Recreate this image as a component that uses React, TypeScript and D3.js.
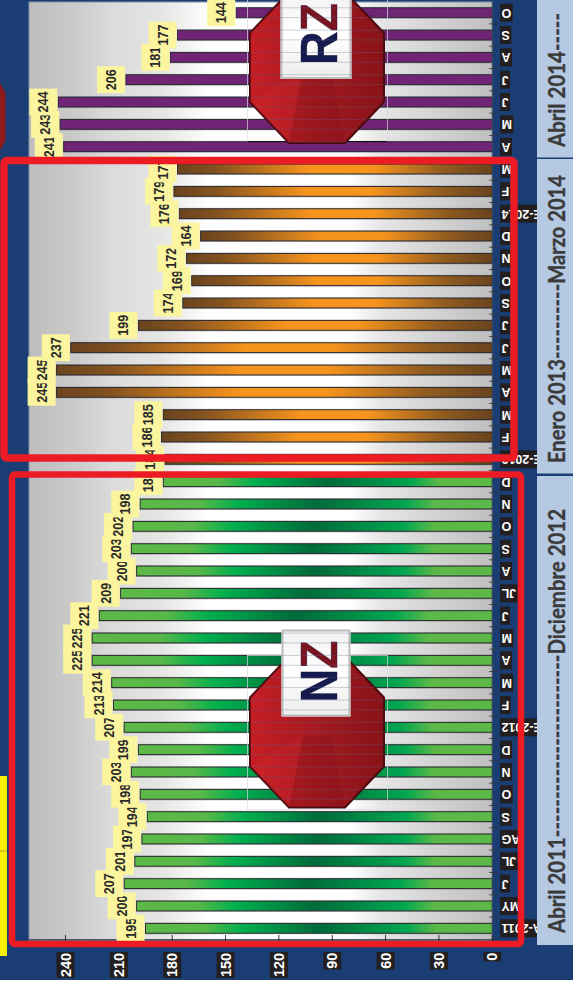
import * as d3 from "d3";
import React from "react";

// Monthly counts, oldest first, one array pair per reporting period.
const greenMonths = ["A-2011", "MY", "J", "JL", "AG", "S", "O", "N", "D", "E-2012", "F", "M", "A", "M", "J", "JL", "A", "S", "O", "N", "D"];
const greenValues = [195, 200, 207, 201, 197, 194, 198, 203, 199, 207, 213, 214, 225, 225, 221, 209, 200, 203, 202, 198, 185];
const orangeMonths = ["E-2013", "F", "M", "A", "M", "J", "J", "S", "O", "N", "D", "E-2014", "F", "M"];
const orangeValues = [184, 186, 185, 245, 245, 237, 199, 174, 169, 172, 164, 176, 179, 177];
const purpleMonths = ["A", "M", "J", "J", "A", "S", "O"];
const purpleValues = [241, 243, 244, 206, 181, 177, 144];
const valueTicks = [0, 30, 60, 90, 120, 150, 180, 210, 240];
const periodTitles = [
  "Abril 2011------------------------Diciembre 2012",
  "Enero 2013----------Marzo 2014",
  "Abril 2014-----",
];

const W = 573;
const H = 989;
const NAVY = "#1A3E73";
const SANS = "'Liberation Sans', Arial, sans-serif";

type Row = { key: number; month: string; value: number; fill: string };
const rows: Row[] = [
  ...greenMonths.map((m, i) => ({ month: m, value: greenValues[i], fill: "url(#barGreen)" })),
  ...orangeMonths.map((m, i) => ({ month: m, value: orangeValues[i], fill: "url(#barOrange)" })),
  ...purpleMonths.map((m, i) => ({ month: m, value: purpleValues[i], fill: "#6F2475" })),
].map((r, i) => ({ ...r, key: i }));

const xScale = d3.scaleLinear().domain([0, 240]).range([492.3, 65.5]);
const yScale = d3.scalePoint<number>().domain(rows.map((r) => r.key)).range([928.3, 12.7]);
const step = yScale.step();
const BAR_H = 9.8;

const measureCtx = document.createElement("canvas").getContext("2d")!;
function textWidth(text: string, font: string) {
  measureCtx.font = font;
  return measureCtx.measureText(text).width;
}

function octagon(x0: number, x1: number, y0: number, y1: number) {
  const cx = 39;
  const cy = 41;
  const pts: [number, number][] = [
    [x0 + cx, y0], [x1 - cx, y0], [x1, y0 + cy], [x1, y1 - cy],
    [x1 - cx, y1], [x0 + cx, y1], [x0, y1 - cy], [x0, y0 + cy],
  ];
  return pts;
}

type BadgeProps = { id: string; first: string; second: string; y0: number; boxY: number; boxX: number; boxW: number; baseLine?: boolean };

function Badge({ id, first, second, y0, boxY, boxX, boxW, baseLine }: BadgeProps) {
  const x0 = 250;
  const x1 = 384;
  const y1 = y0 + 151;
  const pts = octagon(x0, x1, y0, y1);
  const poly = pts.map((p) => p.join(",")).join(" ");
  const midX = (x0 + x1) / 2;
  const midY = (y0 + y1) / 2 + 4;
  const boxH = 87;
  const boxPath = `M${boxX},${boxY}h${boxW}v${boxH}h${-boxW}z`;
  return (
    <g>
      <rect x={247.5} y={y0 - 1} width={140} height={y1 - y0 + (baseLine ? -0.5 : 3)} fill="none" stroke="#d4dae4" strokeWidth={0.7} />
      {baseLine && <line x1={247.5} x2={387.5} y1={y1 - 1.5} y2={y1 - 1.5} stroke="#111" strokeWidth={1.2} />}
      <polygon points={poly} fill="url(#badgeRed)" stroke="#4A0B10" strokeWidth={2} strokeLinejoin="round" />
      <polygon points={`${pts[4].join(",")} ${pts[5].join(",")} ${midX - 14},${midY} ${midX + 14},${midY}`} fill="#7d1015" opacity={0.28} />
      <polygon points={`${pts[6].join(",")} ${pts[5].join(",")} ${midX - 14},${midY}`} fill="#c8242a" opacity={0.25} />
      <polygon points={`${pts[7].join(",")} ${pts[0].join(",")} ${midX},${y0 + 70} ${pts[6].join(",")}`} fill="#a9191f" opacity={0.25} />
      <rect x={boxX} y={boxY} width={boxW} height={boxH} fill="url(#plateFace)" />
      <rect x={boxX + 1} y={boxY + 1} width={boxW - 2} height={boxH - 2} fill="none" stroke="#bdbdbd" strokeWidth={2} />
      <rect x={boxX + 3} y={boxY + 3} width={boxW - 6} height={boxH - 6} fill="none" stroke="#f4f4f4" strokeWidth={1} />
      <text
        transform={`translate(337,${boxY + 73}) rotate(-90)`}
        fontFamily={SANS}
        fontWeight={700}
        fontSize={52}
        textLength={62}
        lengthAdjust="spacingAndGlyphs"
        stroke="#1b1b3a"
        strokeWidth={0.4}
      >
        <tspan fill="#151B4E">{first}</tspan>
        <tspan fill="#7A1420">{second}</tspan>
      </text>
      <clipPath id={`${id}-clip`}>
        <polygon points={poly} />
        <path d={boxPath} />
      </clipPath>
      {/* bar outlines showing faintly through the translucent badge */}
      <g clipPath={`url(#${id}-clip)`} stroke="#5b6690" strokeOpacity={0.38} strokeWidth={0.8}>
        {rows.flatMap((r) => {
          const c = yScale(r.key)!;
          return [c - BAR_H / 2, c + BAR_H / 2].map((y, i) => (
            <line key={`${r.key}-${i}`} x1={x0} x2={x1} y1={y} y2={y} />
          ));
        })}
      </g>
    </g>
  );
}

export default function App() {
  const catFont = `bold 12.5px ${SANS}`;
  const panels = [
    { y0: 476, y1: 945, top: 509, bottom: 933, text: periodTitles[0] },
    { y0: 159, y1: 473.5, top: 175, bottom: 463, text: periodTitles[1] },
    { y0: 0, y1: 157.5, top: 13, bottom: 147, text: periodTitles[2] },
  ];
  return (
    <svg width={W} height={H} style={{ position: "absolute", left: 0, top: 0, display: "block" }}>
      <defs>
        <linearGradient id="plotBg" x1="0" x2="1" y1="0" y2="0">
          <stop offset="0" stopColor="#BDBDBD" />
          <stop offset="0.1" stopColor="#CBCBCB" />
          <stop offset="0.175" stopColor="#DADADA" />
          <stop offset="0.29" stopColor="#E6E6E4" />
          <stop offset="0.39" stopColor="#FFFFFF" />
          <stop offset="0.69" stopColor="#FFFFFF" />
          <stop offset="0.76" stopColor="#E6E6E6" />
          <stop offset="1" stopColor="#BFBFBF" />
        </linearGradient>
        <linearGradient id="barGreen" x1="0" x2="1" y1="0" y2="0">
          <stop offset="0" stopColor="#5DB947" />
          <stop offset="0.17" stopColor="#58B848" />
          <stop offset="0.28" stopColor="#00AF4F" />
          <stop offset="0.5" stopColor="#006B3A" />
          <stop offset="0.75" stopColor="#00A651" />
          <stop offset="0.84" stopColor="#5DB947" />
          <stop offset="1" stopColor="#5DB947" />
        </linearGradient>
        <linearGradient id="barOrange" x1="0" x2="1" y1="0" y2="0">
          <stop offset="0" stopColor="#6A431E" />
          <stop offset="0.12" stopColor="#83521F" />
          <stop offset="0.42" stopColor="#F7941D" />
          <stop offset="0.62" stopColor="#F7941D" />
          <stop offset="0.85" stopColor="#8F5B20" />
          <stop offset="1" stopColor="#6A431E" />
        </linearGradient>
        <linearGradient id="badgeRed" x1="0" x2="1" y1="0" y2="0">
          <stop offset="0" stopColor="#CF2027" />
          <stop offset="0.55" stopColor="#A01A20" />
          <stop offset="1" stopColor="#871318" />
        </linearGradient>
        <linearGradient id="plateFace" x1="0" x2="0" y1="0" y2="1">
          <stop offset="0" stopColor="#F2F2F2" />
          <stop offset="0.5" stopColor="#FFFFFF" />
          <stop offset="1" stopColor="#ECECEC" />
        </linearGradient>
      </defs>

      <rect x={0} y={0} width={W} height={980} fill={NAVY} />
      <rect x={0} y={980} width={W} height={H - 980} fill="#FFFFFF" />

      {/* elements of the neighbouring panel cut off at the left edge */}
      <rect x={0} y={776} width={7} height={180} fill="#F9ED00" />
      <line x1={0} x2={7} y1={851} y2={851} stroke="#8a8a40" strokeWidth={0.7} />
      <polygon points="0,83 5.5,93 5.5,141 0,150" fill="#8F1A1E" />

      {/* plot area */}
      <rect x={29} y={2} width={xScale(0) - 29} height={938} fill="url(#plotBg)" stroke="#8791A3" strokeWidth={1} />

      {/* bars */}
      {rows.map((r) => {
        const c = yScale(r.key)!;
        const x = xScale(r.value);
        return (
          <g key={r.key}>
            <rect x={x - 0.5} y={c - BAR_H / 2 - 0.9} width={xScale(0) - x + 0.5} height={BAR_H + 2} fill="#5c5c64" opacity={0.45} />
            <rect x={x} y={c - BAR_H / 2} width={xScale(0) - x} height={BAR_H} fill={r.fill} stroke="#26262A" strokeWidth={0.9} />
          </g>
        );
      })}

      {/* category axis */}
      <line x1={xScale(0)} x2={xScale(0)} y1={2} y2={940} stroke="#3C4A63" strokeWidth={1} />
      {rows.map((r) => (
        <line key={r.key} x1={489} x2={498} y1={yScale(r.key)! + step / 2} y2={yScale(r.key)! + step / 2} stroke="#333" strokeWidth={0.8} />
      ))}
      {rows.map((r) => {
        const c = yScale(r.key)!;
        const w = textWidth(r.month, catFont) + 3;
        return (
          <g key={r.key}>
            <rect x={500} y={c - 9} width={w} height={18} fill="#231F20" />
            <text
              transform={`translate(${500 + w / 2},${c}) rotate(180)`}
              textAnchor="middle"
              dominantBaseline="central"
              fontFamily={SANS}
              fontWeight={700}
              fontSize={12.5}
              fill="#FFFFFF"
            >
              {r.month}
            </text>
          </g>
        );
      })}

      {/* value axis */}
      <line x1={29} x2={xScale(0)} y1={939.5} y2={939.5} stroke="#4A5568" strokeWidth={1} />
      {valueTicks.map((t) => {
        const label = String(t);
        const len = label.length * 8.3 + 1;
        return (
          <g key={t}>
            <line x1={xScale(t)} x2={xScale(t)} y1={935} y2={941} stroke="#222" strokeWidth={0.9} />
            <rect x={xScale(t) - 9} y={952} width={18} height={len} fill="#231F20" />
            <text
              transform={`translate(${xScale(t)},${952 + len / 2}) rotate(-90)`}
              textAnchor="middle"
              dominantBaseline="central"
              fontFamily={SANS}
              fontWeight={700}
              fontSize={14.5}
              fill="#FFFFFF"
            >
              {label}
            </text>
          </g>
        );
      })}

      {/* value labels, painted oldest first so each one overlaps the previous */}
      {rows.map((r) => {
        const c = yScale(r.key)!;
        const x = xScale(r.value) - 1;
        return (
          <g key={r.key}>
            <rect x={x - 28} y={c - 13.4} width={28} height={26.8} fill="#FAF59E" />
            <text
              transform={`translate(${x - 14},${c}) rotate(-90)`}
              textAnchor="middle"
              dominantBaseline="central"
              fontFamily={SANS}
              fontWeight={700}
              fontSize={14}
              textLength={21}
              lengthAdjust="spacingAndGlyphs"
              fill="#2A2A2A"
            >
              {r.value}
            </text>
          </g>
        );
      })}

      <Badge id="badgeNz" first="N" second="Z" y0={656.5} boxY={629.5} boxX={281.5} boxW={69} />
      <Badge id="badgeRz" first="R" second="Z" y0={-8} boxY={-8} boxX={280.5} boxW={71} baseLine />

      {/* period captions */}
      {panels.map((p) => (
        <g key={p.text}>
          <rect x={537} y={p.y0} width={W - 537} height={p.y1 - p.y0} fill="#B5C9E3" />
          <text
            transform={`translate(565,${p.bottom}) rotate(-90)`}
            fontFamily="Lato, 'Open Sans', sans-serif"
            fontWeight={700}
            fontSize={23.5}
            textLength={p.bottom - p.top}
            lengthAdjust="spacingAndGlyphs"
            fill="#3B3B3B"
            stroke="#3B3B3B"
            strokeWidth={0.35}
          >
            {p.text}
          </text>
        </g>
      ))}

      {/* red frames around the first two periods */}
      <rect x={4} y={160.5} width={510} height={297.5} rx={3} fill="none" stroke="#ED1C24" strokeWidth={7.5} />
      <rect x={12} y={474.5} width={509} height={469.5} rx={3} fill="none" stroke="#ED1C24" strokeWidth={6.5} />
    </svg>
  );
}
